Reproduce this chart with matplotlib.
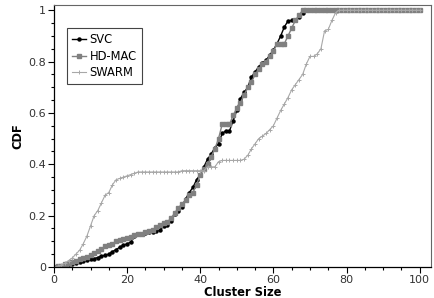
import numpy as np
import matplotlib.pyplot as plt

sizes = np.arange(0, 101)

svc = [0, 0.002, 0.005, 0.008, 0.01, 0.013, 0.016, 0.019, 0.023, 0.027,
       0.03, 0.033, 0.037, 0.042, 0.046, 0.05, 0.06, 0.068, 0.077, 0.085,
       0.09, 0.097, 0.12, 0.127, 0.13, 0.132, 0.135, 0.137, 0.14, 0.145,
       0.158, 0.165, 0.18, 0.205, 0.22, 0.235, 0.265, 0.29, 0.31, 0.34,
       0.36, 0.39, 0.42, 0.44, 0.465, 0.48, 0.52, 0.53, 0.53, 0.57,
       0.61, 0.656, 0.68, 0.70, 0.74, 0.76, 0.78, 0.795, 0.805, 0.825,
       0.845, 0.87, 0.90, 0.935, 0.958, 0.96, 0.96, 0.975, 0.99, 1.0]

hdmac = [0, 0.002, 0.005, 0.01, 0.015, 0.02, 0.025, 0.03, 0.034, 0.04,
         0.045, 0.055, 0.062, 0.07, 0.08, 0.085, 0.09, 0.10, 0.105, 0.11,
         0.112, 0.115, 0.125, 0.13, 0.13, 0.135, 0.14, 0.145, 0.155, 0.163,
         0.17, 0.175, 0.19, 0.21, 0.23, 0.245, 0.26, 0.28, 0.29, 0.32,
         0.36, 0.38, 0.40, 0.43, 0.46, 0.50, 0.556, 0.556, 0.556, 0.59,
         0.62, 0.64, 0.67, 0.70, 0.72, 0.75, 0.77, 0.79, 0.80, 0.82,
         0.84, 0.87, 0.87, 0.87, 0.90, 0.93, 0.96, 0.98, 1.0, 1.0,
         1.0, 1.0, 1.0, 1.0, 1.0, 1.0, 1.0, 1.0, 1.0, 1.0,
         1.0, 1.0, 1.0, 1.0, 1.0, 1.0, 1.0, 1.0, 1.0, 1.0,
         1.0, 1.0, 1.0, 1.0, 1.0, 1.0, 1.0, 1.0, 1.0, 1.0, 1.0]

swarm = [0, 0.003, 0.008, 0.015, 0.025, 0.035, 0.05, 0.065, 0.09, 0.12,
         0.16, 0.20, 0.22, 0.25, 0.28, 0.29, 0.32, 0.34, 0.345, 0.35,
         0.355, 0.36, 0.365, 0.37, 0.37, 0.37, 0.37, 0.37, 0.37, 0.37,
         0.37, 0.37, 0.37, 0.37, 0.37, 0.375, 0.375, 0.375, 0.375, 0.375,
         0.375, 0.375, 0.39, 0.39, 0.39, 0.41, 0.415, 0.415, 0.415, 0.415,
         0.415, 0.415, 0.42, 0.435, 0.46, 0.48, 0.50, 0.51, 0.52, 0.535,
         0.55, 0.58, 0.61, 0.635, 0.66, 0.69, 0.71, 0.73, 0.75, 0.79,
         0.82, 0.82, 0.83, 0.85, 0.92, 0.925, 0.96, 0.99, 1.0, 1.0,
         1.0, 1.0, 1.0, 1.0, 1.0, 1.0, 1.0, 1.0, 1.0, 1.0,
         1.0, 1.0, 1.0, 1.0, 1.0, 1.0, 1.0, 1.0, 1.0, 1.0, 1.0]

fig = plt.figure(figsize=(4.35, 2.98), dpi=100)
ax = fig.add_axes([0.124, 0.104, 0.866, 0.879])

ax.plot(sizes[:len(svc)], svc, color='black', marker='o', markersize=2.2,
        linewidth=1.0, label='SVC')
ax.plot(sizes, hdmac, color='#808080', marker='s', markersize=2.8,
        linewidth=1.0, label='HD-MAC')
ax.plot(sizes, swarm, color='#a8a8a8', marker='+', markersize=3,
        markeredgewidth=0.7, linewidth=0.8, label='SWARM')

ax.set_xlim(0, 103)
ax.set_ylim(0, 1.02)
ax.set_xticks([0, 20, 40, 60, 80, 100])
ax.set_xticks(np.arange(0, 101, 5), minor=True)
ax.set_yticks([0, 0.2, 0.4, 0.6, 0.8, 1])
ax.set_yticklabels(['0', '0.2', '0.4', '0.6', '0.8', '1'])
ax.set_yticks(np.arange(0, 1.01, 0.05), minor=True)
ax.tick_params(which='both', direction='out', top=False, right=False,
               labelsize=8, labelcolor='#333333', width=0.8)
ax.tick_params(which='major', length=4.5, pad=1)
ax.tick_params(which='minor', length=2)

for side in ['top', 'right']:
    ax.spines[side].set_color('#666666')
    ax.spines[side].set_linewidth(0.8)
for side in ['left', 'bottom']:
    ax.spines[side].set_linewidth(0.9)

ax.set_xlabel('Cluster Size', fontsize=8.3, fontweight='bold', labelpad=1)
ax.set_ylabel('CDF', fontsize=8.3, fontweight='bold', labelpad=3)

leg = ax.legend(loc='upper left', bbox_to_anchor=(0.035, 0.912), fontsize=8.3,
                handlelength=1.2, handletextpad=0.3, borderpad=0.45,
                labelspacing=0.3, borderaxespad=0, fancybox=False,
                framealpha=1)
leg.get_frame().set_edgecolor('#444444')
leg.get_frame().set_linewidth(0.8)

fig.savefig('out.png', dpi=100)
